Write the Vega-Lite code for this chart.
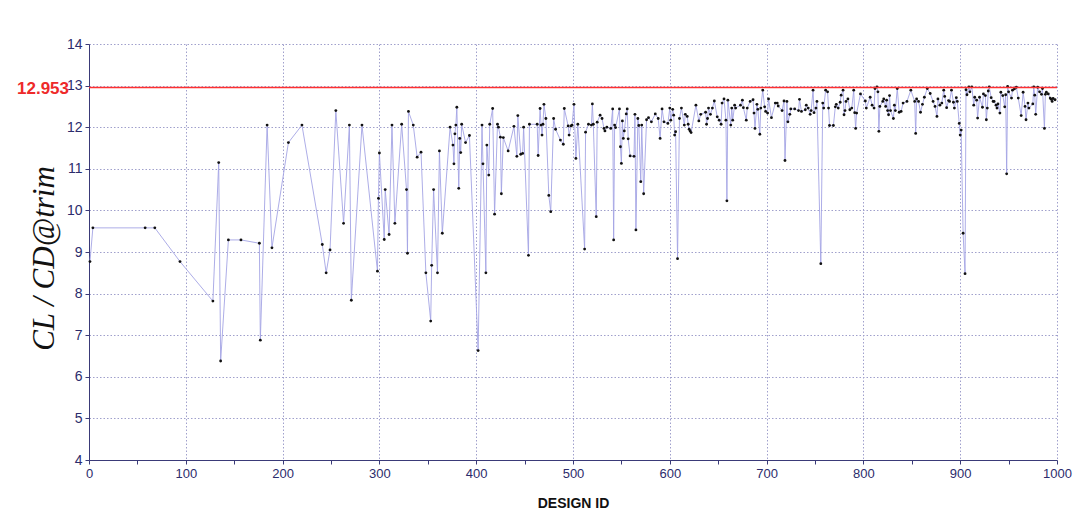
{
  "$schema": "https://vega.github.io/schema/vega-lite/v6.json",
  "width": 968,
  "height": 416,
  "autosize": {"type": "none"},
  "padding": {"left": 89, "top": 44, "right": 33, "bottom": 66},
  "background": "white",
  "config": {"view": {"stroke": null}},
  "datasets": {
    "designs": [
      {"id":1,"ratio":8.77},{"id":4,"ratio":9.58},{"id":58,"ratio":9.58},{"id":68,"ratio":9.58},{"id":94,"ratio":8.77},
      {"id":128,"ratio":7.82},{"id":134,"ratio":11.15},{"id":136,"ratio":6.38},{"id":144,"ratio":9.29},{"id":157,"ratio":9.29},
      {"id":176,"ratio":9.21},{"id":177,"ratio":6.88},{"id":184,"ratio":12.05},{"id":189,"ratio":9.1},{"id":206,"ratio":11.63},
      {"id":220,"ratio":12.05},{"id":241,"ratio":9.18},{"id":245,"ratio":8.5},{"id":249,"ratio":9.05},{"id":255,"ratio":12.4},
      {"id":263,"ratio":9.69},{"id":269,"ratio":12.05},{"id":271,"ratio":7.84},{"id":282,"ratio":12.05},{"id":298,"ratio":8.54},
      {"id":299,"ratio":10.29},{"id":300,"ratio":11.38},{"id":305,"ratio":9.3},{"id":306,"ratio":10.5},{"id":310,"ratio":9.42},
      {"id":313,"ratio":12.05},{"id":316,"ratio":9.69},{"id":323,"ratio":12.07},{"id":328,"ratio":10.5},{"id":329,"ratio":8.97},
      {"id":330,"ratio":12.38},{"id":335,"ratio":12.05},{"id":339,"ratio":11.28},{"id":343,"ratio":11.4},{"id":348,"ratio":8.5},
      {"id":353,"ratio":7.34},{"id":354,"ratio":8.68},{"id":356,"ratio":10.5},{"id":360,"ratio":8.5},{"id":362,"ratio":11.43},
      {"id":365,"ratio":9.45},{"id":373,"ratio":12.0},{"id":376,"ratio":11.57},{"id":377,"ratio":11.12},{"id":378,"ratio":11.84},
      {"id":379,"ratio":12.05},{"id":380,"ratio":12.48},{"id":382,"ratio":10.53},{"id":383,"ratio":11.73},{"id":384,"ratio":11.39},
      {"id":385,"ratio":12.07},{"id":389,"ratio":11.63},{"id":393,"ratio":11.8},{"id":402,"ratio":6.63},{"id":406,"ratio":12.05},
      {"id":407,"ratio":11.12},{"id":410,"ratio":8.5},{"id":411,"ratio":11.57},{"id":413,"ratio":10.85},{"id":414,"ratio":12.07},
      {"id":417,"ratio":12.45},{"id":419,"ratio":9.91},{"id":422,"ratio":12.07},{"id":423,"ratio":12.0},{"id":425,"ratio":11.76},
      {"id":426,"ratio":10.4},{"id":428,"ratio":11.75},{"id":433,"ratio":11.43},{"id":439,"ratio":12.02},{"id":442,"ratio":11.3},
      {"id":443,"ratio":12.28},{"id":446,"ratio":11.35},{"id":448,"ratio":11.37},{"id":449,"ratio":12.0},{"id":454,"ratio":8.92},
      {"id":455,"ratio":12.07},{"id":463,"ratio":12.07},{"id":464,"ratio":11.32},{"id":466,"ratio":12.45},{"id":467,"ratio":12.05},
      {"id":468,"ratio":11.81},{"id":469,"ratio":12.07},{"id":470,"ratio":12.55},{"id":472,"ratio":12.21},{"id":475,"ratio":10.36},
      {"id":477,"ratio":9.97},{"id":480,"ratio":12.21},{"id":482,"ratio":11.95},{"id":487,"ratio":11.69},{"id":490,"ratio":11.59},
      {"id":491,"ratio":12.45},{"id":495,"ratio":12.03},{"id":496,"ratio":11.81},{"id":498,"ratio":12.03},{"id":499,"ratio":12.05},
      {"id":501,"ratio":12.55},{"id":503,"ratio":11.25},{"id":505,"ratio":12.07},{"id":512,"ratio":9.07},{"id":513,"ratio":11.88},
      {"id":516,"ratio":12.07},{"id":519,"ratio":12.05},{"id":520,"ratio":12.56},{"id":521,"ratio":12.07},{"id":524,"ratio":9.85},
      {"id":525,"ratio":12.12},{"id":528,"ratio":12.29},{"id":530,"ratio":12.21},{"id":532,"ratio":11.97},{"id":533,"ratio":11.91},
      {"id":535,"ratio":12.0},{"id":539,"ratio":11.97},{"id":541,"ratio":12.44},{"id":542,"ratio":9.29},{"id":543,"ratio":12.05},
      {"id":544,"ratio":11.99},{"id":548,"ratio":12.44},{"id":549,"ratio":11.53},{"id":550,"ratio":11.13},{"id":551,"ratio":12.15},
      {"id":552,"ratio":11.73},{"id":553,"ratio":11.91},{"id":555,"ratio":12.32},{"id":556,"ratio":12.44},{"id":557,"ratio":11.72},
      {"id":559,"ratio":11.31},{"id":563,"ratio":11.3},{"id":564,"ratio":12.31},{"id":565,"ratio":9.53},{"id":567,"ratio":12.21},
      {"id":568,"ratio":12.04},{"id":570,"ratio":10.69},{"id":571,"ratio":12.05},{"id":573,"ratio":10.4},{"id":576,"ratio":12.18},
      {"id":578,"ratio":12.23},{"id":581,"ratio":12.13},{"id":585,"ratio":12.32},{"id":588,"ratio":12.21},{"id":590,"ratio":11.73},
      {"id":592,"ratio":12.44},{"id":594,"ratio":12.13},{"id":598,"ratio":12.09},{"id":600,"ratio":12.46},{"id":601,"ratio":12.17},
      {"id":603,"ratio":12.43},{"id":604,"ratio":12.29},{"id":605,"ratio":11.81},{"id":606,"ratio":11.89},{"id":608,"ratio":8.84},
      {"id":610,"ratio":12.21},{"id":612,"ratio":12.46},{"id":615,"ratio":12.05},{"id":616,"ratio":12.31},{"id":618,"ratio":12.26},
      {"id":619,"ratio":12.07},{"id":620,"ratio":11.95},{"id":621,"ratio":11.91},{"id":622,"ratio":11.87},{"id":627,"ratio":12.53},
      {"id":630,"ratio":12.15},{"id":632,"ratio":12.31},{"id":637,"ratio":12.36},{"id":638,"ratio":12.07},{"id":639,"ratio":12.21},
      {"id":640,"ratio":12.46},{"id":642,"ratio":12.31},{"id":644,"ratio":12.46},{"id":646,"ratio":12.63},{"id":649,"ratio":12.25},
      {"id":651,"ratio":12.17},{"id":653,"ratio":12.07},{"id":654,"ratio":12.58},{"id":656,"ratio":12.68},{"id":658,"ratio":12.17},
      {"id":659,"ratio":10.23},{"id":660,"ratio":12.65},{"id":663,"ratio":12.05},{"id":664,"ratio":12.46},{"id":665,"ratio":12.17},
      {"id":667,"ratio":12.53},{"id":668,"ratio":12.46},{"id":673,"ratio":12.53},{"id":675,"ratio":12.65},{"id":676,"ratio":12.47},
      {"id":679,"ratio":12.17},{"id":680,"ratio":12.46},{"id":683,"ratio":12.62},{"id":686,"ratio":12.66},{"id":687,"ratio":12.34},
      {"id":688,"ratio":11.97},{"id":690,"ratio":12.55},{"id":691,"ratio":12.43},{"id":693,"ratio":11.83},{"id":694,"ratio":12.46},
      {"id":696,"ratio":12.89},{"id":698,"ratio":12.49},{"id":699,"ratio":12.38},{"id":701,"ratio":12.34},{"id":702,"ratio":12.68},
      {"id":705,"ratio":12.23},{"id":709,"ratio":12.58},{"id":711,"ratio":12.58},{"id":712,"ratio":12.51},{"id":716,"ratio":12.4},
      {"id":718,"ratio":12.63},{"id":719,"ratio":11.2},{"id":721,"ratio":12.62},{"id":722,"ratio":12.13},{"id":724,"ratio":12.31},
      {"id":725,"ratio":12.44},{"id":729,"ratio":12.44},{"id":733,"ratio":12.4},{"id":734,"ratio":12.67},{"id":736,"ratio":12.38},
      {"id":740,"ratio":12.42},{"id":741,"ratio":12.53},{"id":743,"ratio":12.46},{"id":745,"ratio":12.31},{"id":746,"ratio":12.4},
      {"id":748,"ratio":12.89},{"id":749,"ratio":12.35},{"id":751,"ratio":12.46},{"id":752,"ratio":12.62},{"id":756,"ratio":8.72},
      {"id":758,"ratio":12.58},{"id":759,"ratio":12.46},{"id":761,"ratio":12.89},{"id":763,"ratio":12.85},{"id":764,"ratio":12.46},
      {"id":765,"ratio":12.04},{"id":769,"ratio":12.04},{"id":771,"ratio":12.49},{"id":772,"ratio":12.55},{"id":774,"ratio":12.46},
      {"id":776,"ratio":12.6},{"id":777,"ratio":12.77},{"id":779,"ratio":12.89},{"id":780,"ratio":12.3},{"id":781,"ratio":12.4},
      {"id":782,"ratio":12.62},{"id":784,"ratio":12.68},{"id":786,"ratio":12.42},{"id":788,"ratio":12.46},{"id":790,"ratio":12.89},
      {"id":791,"ratio":12.35},{"id":792,"ratio":11.97},{"id":793,"ratio":12.34},{"id":797,"ratio":12.8},{"id":802,"ratio":12.63},
      {"id":803,"ratio":12.46},{"id":807,"ratio":12.72},{"id":809,"ratio":12.53},{"id":811,"ratio":12.46},{"id":812,"ratio":12.93},
      {"id":814,"ratio":12.97},{"id":815,"ratio":12.85},{"id":816,"ratio":11.9},{"id":817,"ratio":12.5},{"id":820,"ratio":12.62},
      {"id":821,"ratio":12.68},{"id":823,"ratio":12.5},{"id":824,"ratio":12.65},{"id":825,"ratio":12.4},{"id":826,"ratio":12.3},
      {"id":827,"ratio":12.76},{"id":828,"ratio":12.4},{"id":831,"ratio":12.21},{"id":832,"ratio":12.53},{"id":833,"ratio":12.4},
      {"id":835,"ratio":12.93},{"id":837,"ratio":12.36},{"id":839,"ratio":12.38},{"id":841,"ratio":12.58},{"id":845,"ratio":12.62},
      {"id":849,"ratio":12.89},{"id":853,"ratio":12.62},{"id":854,"ratio":11.85},{"id":855,"ratio":12.68},{"id":857,"ratio":12.62},
      {"id":859,"ratio":12.36},{"id":861,"ratio":12.55},{"id":863,"ratio":12.72},{"id":866,"ratio":12.93},{"id":869,"ratio":12.81},
      {"id":872,"ratio":12.62},{"id":874,"ratio":12.5},{"id":876,"ratio":12.26},{"id":877,"ratio":12.68},{"id":879,"ratio":12.53},
      {"id":881,"ratio":12.58},{"id":883,"ratio":12.89},{"id":884,"ratio":12.74},{"id":886,"ratio":12.47},{"id":888,"ratio":12.64},
      {"id":889,"ratio":12.62},{"id":891,"ratio":12.89},{"id":893,"ratio":12.6},{"id":894,"ratio":12.46},{"id":896,"ratio":12.71},
      {"id":897,"ratio":12.62},{"id":899,"ratio":12.09},{"id":900,"ratio":11.81},{"id":901,"ratio":11.93},{"id":903,"ratio":9.45},
      {"id":905,"ratio":8.48},{"id":906,"ratio":12.9},{"id":907,"ratio":12.78},{"id":909,"ratio":12.97},{"id":910,"ratio":12.85},
      {"id":912,"ratio":12.97},{"id":914,"ratio":12.53},{"id":915,"ratio":12.72},{"id":917,"ratio":12.65},{"id":918,"ratio":12.22},
      {"id":920,"ratio":12.72},{"id":923,"ratio":12.48},{"id":924,"ratio":12.8},{"id":926,"ratio":12.76},{"id":927,"ratio":12.18},
      {"id":928,"ratio":12.46},{"id":929,"ratio":12.87},{"id":930,"ratio":12.97},{"id":932,"ratio":12.71},{"id":934,"ratio":12.62},
      {"id":935,"ratio":12.62},{"id":937,"ratio":12.53},{"id":938,"ratio":12.46},{"id":939,"ratio":12.56},{"id":941,"ratio":12.34},
      {"id":942,"ratio":12.84},{"id":944,"ratio":12.76},{"id":946,"ratio":12.49},{"id":947,"ratio":12.78},{"id":948,"ratio":10.88},
      {"id":949,"ratio":12.98},{"id":950,"ratio":12.85},{"id":953,"ratio":12.7},{"id":954,"ratio":12.89},{"id":956,"ratio":12.92},
      {"id":958,"ratio":12.96},{"id":960,"ratio":12.7},{"id":963,"ratio":12.28},{"id":965,"ratio":12.84},{"id":967,"ratio":12.5},
      {"id":968,"ratio":12.18},{"id":970,"ratio":12.58},{"id":971,"ratio":12.46},{"id":975,"ratio":12.56},{"id":976,"ratio":12.97},
      {"id":977,"ratio":12.77},{"id":978,"ratio":12.31},{"id":980,"ratio":12.96},{"id":982,"ratio":12.85},{"id":984,"ratio":12.79},
      {"id":985,"ratio":12.93},{"id":987,"ratio":11.97},{"id":988,"ratio":12.79},{"id":989,"ratio":12.84},{"id":991,"ratio":12.8},
      {"id":993,"ratio":12.7},{"id":994,"ratio":12.67},{"id":995,"ratio":12.62},{"id":996,"ratio":12.69},{"id":998,"ratio":12.66}
    ],
    "best": [{"level": 12.953, "label": "12.953"}]
  },
  "layer": [
    {
      "data": {"name": "designs"},
      "mark": {"type": "line", "color": "#a4a4e4", "strokeWidth": 0.9, "clip": true},
      "encoding": {
        "x": {
          "field": "id", "type": "quantitative",
          "scale": {"domain": [0, 1000], "nice": false, "zero": false},
          "axis": {
            "title": "DESIGN ID",
            "values": [0,50,100,150,200,250,300,350,400,450,500,550,600,650,700,750,800,850,900,950,1000],
            "labelExpr": "datum.value % 100 === 0 ? format(datum.value, 'd') : ''",
            "gridOpacity": {"condition": {"test": "datum.value % 100 === 0", "value": 1}, "value": 0},
            "grid": true, "gridColor": "#a0a0cc", "gridDash": [1.5, 2], "gridWidth": 1,
            "domainColor": "#3a3a78", "tickColor": "#3a3a78", "tickSize": 4,
            "labelColor": "#2c2c6c", "labelFont": "Liberation Sans", "labelFontSize": 13, "labelPadding": 3,
            "labelFlush": false,
            "titleFont": "Liberation Sans", "titleFontSize": 14, "titleFontWeight": "bold", "titleColor": "#111111",
            "titleY": 43, "titleBaseline": "middle"
          }
        },
        "y": {
          "field": "ratio", "type": "quantitative",
          "scale": {"domain": [4, 14], "nice": false, "zero": false},
          "axis": {
            "title": "CL / CD@trim",
            "values": [4,4.5,5,5.5,6,6.5,7,7.5,8,8.5,9,9.5,10,10.5,11,11.5,12,12.5,13,13.5,14],
            "labelExpr": "datum.value % 1 === 0 ? format(datum.value, 'd') : ''",
            "gridOpacity": {"condition": {"test": "datum.value % 1 === 0", "value": 1}, "value": 0},
            "grid": true, "gridColor": "#a0a0cc", "gridDash": [1.5, 2], "gridWidth": 1,
            "domainColor": "#3a3a78", "tickColor": "#3a3a78", "tickSize": 4,
            "labelColor": "#2c2c6c", "labelFont": "Liberation Sans", "labelFontSize": 14, "labelPadding": 3,
            "labelFlush": false,
            "titleFont": "Liberation Serif", "titleFontSize": 31, "titleFontStyle": "italic", "titleFontWeight": "normal",
            "titleColor": "#111111", "titleX": -45, "titleY": 214, "titleAngle": -90, "titleAlign": "center", "titleBaseline": "middle"
          }
        }
      }
    },
    {
      "data": {"name": "designs"},
      "mark": {"type": "circle", "color": "#111111", "opacity": 1, "size": 8},
      "encoding": {
        "x": {"field": "id", "type": "quantitative"},
        "y": {"field": "ratio", "type": "quantitative"}
      }
    },
    {
      "data": {"name": "best"},
      "mark": {"type": "rule", "color": "#ff3030", "strokeWidth": 1.6},
      "encoding": {
        "y": {"field": "level", "type": "quantitative"}
      }
    },
    {
      "data": {"name": "best"},
      "mark": {"type": "text", "color": "#ee2a2a", "font": "Liberation Sans", "fontSize": 17, "fontWeight": "bold", "align": "right", "baseline": "middle", "dx": -20, "dy": 1, "clip": false},
      "encoding": {
        "x": {"datum": 0},
        "y": {"field": "level", "type": "quantitative"},
        "text": {"field": "label"}
      }
    }
  ]
}
